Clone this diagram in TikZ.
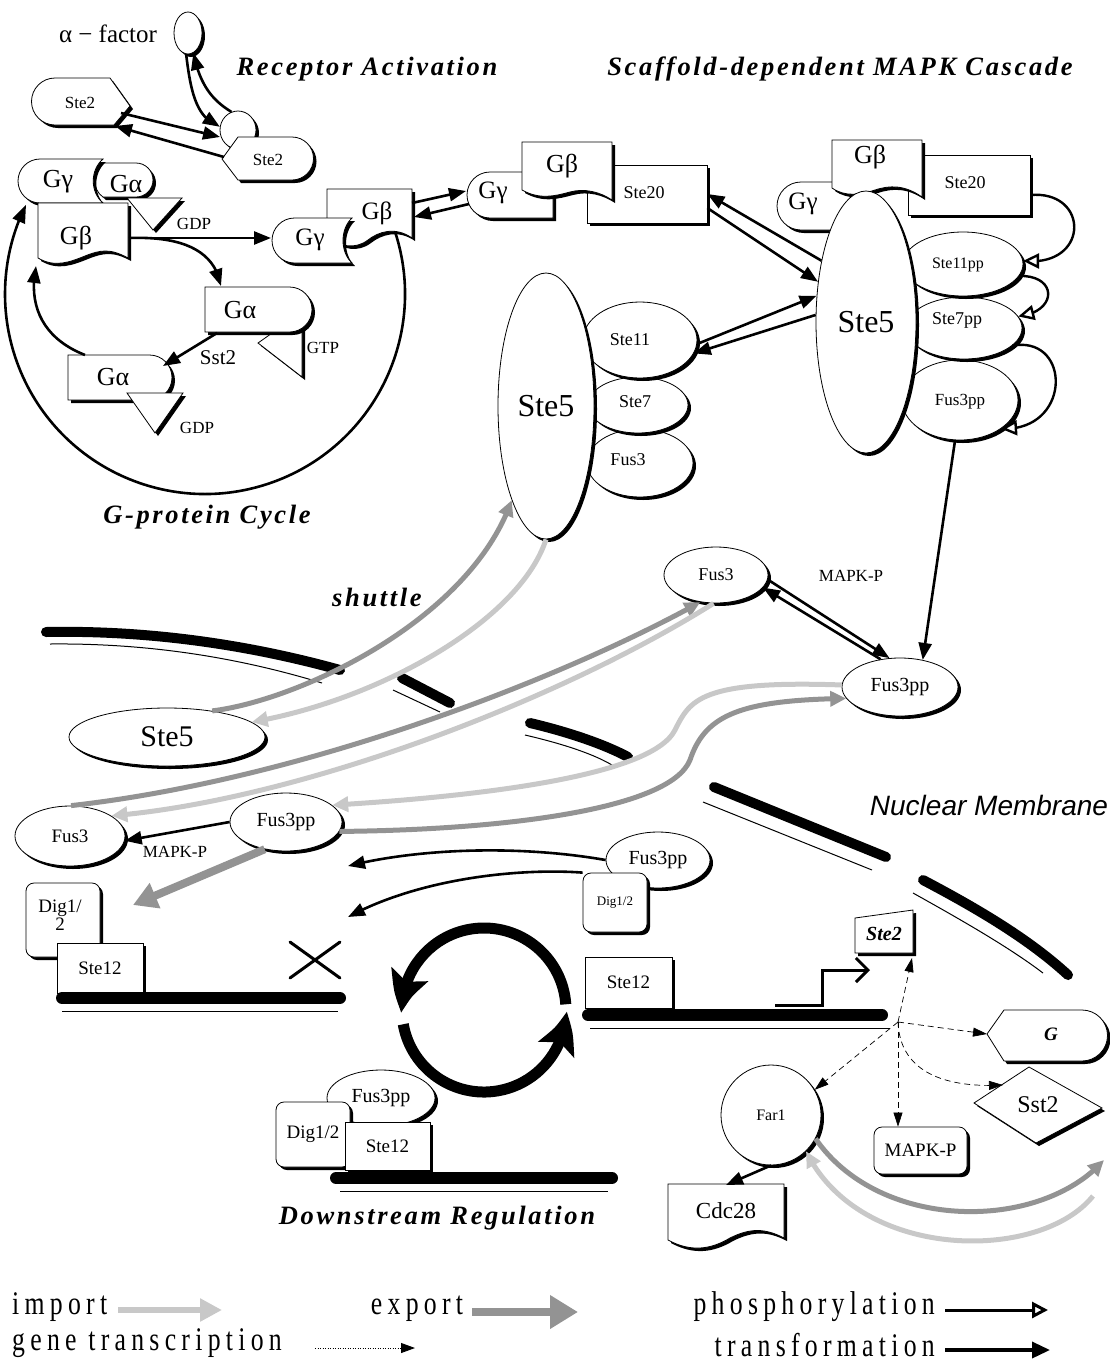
\documentclass[tikz,border=0pt]{standalone}
\usepackage{fontspec}
\setmainfont{Liberation Serif}
\newfontfamily\nmfont{Liberation Sans}
\newfontfamily\ttlfont[LetterSpace=10]{Liberation Serif}
\newfontfamily\lgfont[FakeStretch=0.78,LetterSpace=16]{Liberation Serif}
\usetikzlibrary{shapes.geometric,shadows,arrows.meta,calc,bending}
\newcommand\fsz[1]{\fontsize{#1pt}{#1pt}\selectfont}
\definecolor{impc}{HTML}{C8C8C8}
\definecolor{expc}{HTML}{939393}
\tikzset{
 shd/.style={drop shadow={shadow xshift=3pt,shadow yshift=-3pt,fill=black,opacity=1}},
 box/.style={draw,fill=white,line width=0.8pt,shd},
 ell/.style={ellipse,box,inner sep=0pt},
 rbox/.style={box,inner sep=0pt},
 lbl/.style={inner sep=0pt,font=\fsz{18}},
 ar/.style={line width=2.6pt,-{Triangle[length=17pt,width=13pt]}},
 imp/.style={line width=5pt,draw=impc,-{Triangle[length=16pt,width=15pt]}},
 expo/.style={line width=5pt,draw=expc,-{Triangle[length=16pt,width=15pt]}},
 ph/.style={line width=2.4pt,-{Triangle[open,fill=white,length=16pt,width=15pt]}},
 dsh/.style={line width=0.7pt,dash pattern=on 6pt off 4pt,-{Triangle[length=14pt,width=9pt]}},
 mem/.style={line width=10pt,line cap=round},
 thn/.style={line width=1pt},
 ttl/.style={inner sep=0pt,font=\ttlfont\bfseries\itshape\fsz{26.5}},
 lgd/.style={inner sep=0pt,font=\lgfont\fsz{33}},
 cyc/.style={line width=11pt,-{Stealth[length=40pt,width=38pt,inset=8pt,bend]}},
}
\begin{document}
\begin{tikzpicture}[x=1pt,y=-1pt]
\useasboundingbox (0,0) rectangle (1110,1366);

% ---------- titles ----------
\node[ttl] (tRA) at (367,69) {Receptor Activation};
\node[ttl] (tSD) at (840,69) {Scaffold-dependent MAPK Cascade};
\node[ttl] (tGC) at (207,517) {G-protein Cycle};
\node[ttl] (tSh) at (377,597) {shuttle};
\node[ttl] (tDR) at (437,1218) {Downstream Regulation};
\node[inner sep=0pt,font=\nmfont\itshape\fsz{28}] (tNM) at (989,805) {Nuclear Membrane};

% ---------- receptor activation ----------
\node[lbl,font=\fsz{25}] (alphat) at (108,34) {α − factor};
\node[ell,minimum width=28pt,minimum height=42pt] (alpha) at (188,33) {};
\path[box] (55,78) -- (110,78) -- (130,106) -- (114,125) -- (55,125) arc[start angle=270,end angle=90,radius=23.5pt] -- cycle;
\node[lbl,font=\fsz{17}] (ste2a) at (80,103) {Ste2};
\node[ell,minimum width=36pt,minimum height=38pt] (alphab) at (238,130) {};
\path[box] (222,159) -- (238,137) -- (292,137) arc[start angle=90,end angle=-90,radius=21.5pt] -- (238,180) -- cycle;
\node[lbl,font=\fsz{17}] (ste2b) at (268,160) {Ste2};
\coordinate (s2aE) at (121,113);
\coordinate (s2aE2) at (115,126);
\coordinate (s2bW) at (220,137);
\coordinate (s2bW2) at (224,157);
\draw[ar] (s2aE) -- (s2bW);
\draw[ar] (s2bW2) -- (s2aE2);
\draw[ar] (alpha.265) .. controls (191,95) and (197,118) .. (alphab.170);
\draw[ar] (alphab.110) .. controls (212,100) and (200,85) .. (alpha.-75);

% ---------- G-protein cycle ----------
\coordinate (gcc) at (205,294);
\draw[line width=2.6pt,-{Triangle[length=18pt,width=13pt]}] ($(gcc)+(18.7:200pt)$) arc[start angle=18.7,end angle=-206.5,radius=200pt];

\path[box] (103,163) -- (136,163) arc[start angle=90,end angle=-90,radius=17pt] -- (103,197) .. controls (92,190) and (92,170) .. (103,163) -- cycle;
\path[box] (103,159) -- (40,159) arc[start angle=90,end angle=270,radius=22pt] -- (103,203) .. controls (90,192) and (90,170) .. (103,159) -- cycle;
\path[box] (127,198) -- (182,198) -- (153,230) -- cycle;
\path[box] (38,203) -- (128,203) -- (128,258) .. controls (110,248) and (100,250) .. (85,256) .. controls (70,262) and (55,268) .. (38,258) -- cycle;
\node[lbl,font=\fsz{26}] (ggTL) at (58,182) {Gγ};
\node[lbl,font=\fsz{26}] (gaTL) at (126,184) {Gα};
\node[lbl,font=\fsz{26}] (gbTL) at (76,238) {Gβ};
\node[lbl,font=\fsz{17}] (gdpTL) at (194,224) {GDP};

\path[box] (258,343) -- (302,312) -- (302,377) -- cycle;
\path[box] (205,287) -- (289.5,287) arc[start angle=90,end angle=-90,radius=22.5pt] -- (205,332) -- cycle;
\node[lbl,font=\fsz{26}] (gaGTP) at (240,310) {Gα};
\node[lbl,font=\fsz{17}] (gtp) at (323,348) {GTP};
\path[box] (68,355) -- (149.5,355) arc[start angle=90,end angle=-90,radius=22.5pt] -- (68,400) -- cycle;
\path[box] (127,393) -- (183,393) -- (155,433) -- cycle;
\node[lbl,font=\fsz{26}] (gaGDP) at (113,377) {Gα};
\node[lbl,font=\fsz{17}] (gdp2) at (197,428) {GDP};
\node[lbl,font=\fsz{21}] (sst2l) at (218,358) {Sst2};

\coordinate (gbE) at (129,238);
\coordinate (ggMW) at (271,238);
\coordinate (gaGTPt) at (221,286);
\coordinate (gaGTPb) at (217,333);
\coordinate (gaGDPr) at (163,366);
\coordinate (gaGDPt) at (85,355);
\coordinate (gbBL) at (36,266);
\draw[ar] (gbE) -- (ggMW);
\draw[ar] (gbE) .. controls (185,236) and (215,252) .. (gaGTPt);
\draw[ar] (gaGTPb) -- (gaGDPr);
\draw[ar] (gaGDPt) .. controls (42,338) and (28,305) .. (gbBL);

% middle G complex
\path[box] (327,189) -- (412,189) -- (412,238) .. controls (395,226) and (378,232) .. (368,240) .. controls (355,250) and (340,246) .. (327,238) -- cycle;
\path[box] (352,218) -- (294.5,218) arc[start angle=90,end angle=270,radius=22.5pt] -- (352,263) .. controls (340,252) and (340,229) .. (352,218) -- cycle;
\node[lbl,font=\fsz{25}] (ggM) at (310,240) {Gγ};
\node[lbl,font=\fsz{25}] (gbM) at (377,213) {Gβ};

% top-middle complex
\node[rbox,minimum width=120pt,minimum height=58pt] (ste20M) at (647,194) {};
\path[box] (553,172) -- (490,172) arc[start angle=90,end angle=270,radius=23pt] -- (553,218) -- cycle;
\path[box] (522,142) -- (612,142) -- (612,200) .. controls (600,192) and (585,188) .. (570,192) .. controls (555,196) and (540,200) .. (522,190) -- cycle;
\node[lbl,font=\fsz{18}] (ste20Mt) at (644,193) {Ste20};
\node[lbl,font=\fsz{25}] (ggTM) at (493,193) {Gγ};
\node[lbl,font=\fsz{26}] (gbTM) at (562,166) {Gβ};

\coordinate (gbME1) at (412,203);
\coordinate (ggTMW1) at (466,191);
\coordinate (ggTMW2) at (469,204);
\coordinate (gbME2) at (414,217);
\draw[ar] (gbME1) -- (ggTMW1);
\draw[ar] (ggTMW2) -- (gbME2);

% right complex
\node[rbox,minimum width=122pt,minimum height=60pt] (ste20R) at (969,185) {};
\path[box] (850,182) -- (801,182) arc[start angle=90,end angle=270,radius=24pt] -- (850,230) -- cycle;
\path[box] (832,140) -- (922,140) -- (922,197) .. controls (905,185) and (890,185) .. (875,190) .. controls (860,195) and (845,197) .. (832,188) -- cycle;
\node[ell,minimum width=116pt,minimum height=80pt] (fus3ppL) at (960,400) {};
\node[ell,minimum width=116pt,minimum height=62pt] (ste7pp) at (964,328) {};
\node[ell,minimum width=120pt,minimum height=64pt] (ste11pp) at (963,264) {};
\node[ell,minimum width=100pt,minimum height=262pt,font=\fsz{32}] (ste5R) at (866,322) {Ste5};
\node[lbl,font=\fsz{18}] (ste20Rt) at (965,183) {Ste20};
\node[lbl,font=\fsz{25}] (ggR) at (803,204) {Gγ};
\node[lbl,font=\fsz{26}] (gbR) at (870,157) {Gβ};
\node[lbl,font=\fsz{16}] (ste11ppt) at (958,265) {Ste11pp};
\node[lbl,font=\fsz{18}] (ste7ppt) at (957,320) {Ste7pp};
\node[lbl,font=\fsz{17}] (fus3ppLt) at (960,402) {Fus3pp};

\draw[ph] ([yshift=-10pt]ste20R.east) .. controls (1090,190) and (1090,268) .. (ste11pp.3);
\draw[ph] (ste11pp.-12) .. controls (1058,275) and (1058,312) .. (ste7pp.12);
\draw[ph] (ste7pp.-20) .. controls (1072,335) and (1072,432) .. (fus3ppL.-35);

% left Ste5 complex
\node[ell,minimum width=106pt,minimum height=68pt] (fus3L) at (640,463) {};
\node[ell,minimum width=100pt,minimum height=56pt] (ste7L) at (638,405) {};
\node[ell,minimum width=114pt,minimum height=76pt] (ste11L) at (640,340) {};
\node[ell,minimum width=96pt,minimum height=266pt,font=\fsz{32}] (ste5L) at (546,406) {Ste5};
\node[lbl,font=\fsz{18}] (ste11Lt) at (630,340) {Ste11};
\node[lbl,font=\fsz{18}] (ste7Lt) at (635,402) {Ste7};
\node[lbl,font=\fsz{18}] (fus3Lt) at (628,460) {Fus3};

\draw[ar] (ste5R.126) -- (ste20M.east);
\draw[ar] ([yshift=-14pt]ste20M.east) -- (ste5R.140);
\draw[ar] (ste11L.-4) -- (ste5R.152);
\draw[ar] (ste5R.172) -- (ste11L.-14);

% ---------- nuclear membrane ----------
\draw[mem] (46,632) .. controls (150,630) and (250,645) .. (340,670);
\draw[thn] (50,644) .. controls (150,643) and (240,658) .. (322,683);
\draw[mem] (402,678) -- (450,703);
\draw[thn] (393,690) -- (440,712);
\draw[mem] (530,723) .. controls (560,730) and (600,742) .. (628,757);
\draw[thn] (525,735) .. controls (555,742) and (590,752) .. (612,765);
\draw[mem] (714,787) -- (886,857);
\draw[thn] (703,802) -- (872,870);
\draw[mem] (923,880) .. controls (980,910) and (1030,940) .. (1068,975);
\draw[thn] (913,893) .. controls (965,922) and (1010,948) .. (1043,973);

% ---------- shuttle region ----------
\node[ell,minimum width=104pt,minimum height=56pt,font=\fsz{18}] (fus3T) at (716,575) {Fus3};
\node[ell,minimum width=116pt,minimum height=58pt,font=\fsz{20}] (fus3ppR) at (900,687) {Fus3pp};
\node[ell,minimum width=196pt,minimum height=58pt,font=\fsz{30}] (ste5C) at (167,737) {Ste5};
\node[ell,minimum width=110pt,minimum height=60pt,font=\fsz{19}] (fus3C) at (70,836) {Fus3};
\node[ell,minimum width=112pt,minimum height=58pt,font=\fsz{20}] (fus3ppC) at (286,822) {Fus3pp};
\node[lbl,font=\fsz{17}] (mapkT) at (851,576) {MAPK-P};
\node[lbl,font=\fsz{17}] (mapkC) at (175,852) {MAPK-P};

\draw[ar] (fus3ppL.-97) -- (fus3ppR.50);
\draw[ar] (fus3T.-5) -- (fus3ppR.110);
\draw[ar] (fus3ppR.125) -- (fus3T.-15);
\draw[ar] (fus3ppC.west) -- (fus3C.-5);

\draw[expo] (ste5C.30) .. controls (300,700) and (470,620) .. (ste5L.-110);
\draw[imp] (ste5L.-90) .. controls (520,620) and (380,700) .. (ste5C.10);
\draw[expo] (fus3C.88) .. controls (300,780) and (560,680) .. (fus3T.-120);
\draw[imp] (fus3T.-95) .. controls (560,700) and (300,800) .. (fus3C.26);
\draw[imp] (fus3ppR.178) .. controls (700,680) and (690,700) .. (675,730) .. controls (650,780) and (450,798) .. (fus3ppC.20);
\draw[expo] (fus3ppC.-10) .. controls (500,830) and (670,810) .. (690,760) .. controls (705,715) and (740,700) .. (fus3ppR.192);

\coordinate (digtip) at (133,905);
\draw[line width=8pt,draw=expc,-{Triangle[length=24pt,width=26pt]}] (fus3ppC.-128) -- (digtip);

% ---------- nucleus: transcription ----------
\node[ell,minimum width=104pt,minimum height=56pt,font=\fsz{20}] (fus3ppN) at (658,860) {Fus3pp};
\node[rbox,rounded corners=8pt,minimum width=64pt,minimum height=59pt,font=\fsz{13}] (digN) at (615,902.5) {Dig1/2};
\coordinate (tipA) at (348,866);
\coordinate (tipB) at (348,917);
\draw[ar] (fus3ppN.west) .. controls (520,845) and (420,848) .. (tipA);
\draw[ar] (digN.north west) .. controls (520,868) and (420,878) .. (tipB);

\node[rbox,rounded corners=8pt,minimum width=74pt,minimum height=74pt] (digL) at (63,920) {};
\node[lbl,font=\fsz{19},align=center] (digLt) at (60,915) {Dig1/\\[-1pt]2};
\node[rbox,minimum width=86pt,minimum height=50pt,font=\fsz{19}] (ste12L) at (100,968) {Ste12};
\draw[mem,line width=12pt] (62,998) -- (340,998);
\draw[thn] (62,1011) -- (338,1011);
\draw[line width=3pt,line cap=round] (290,942) -- (340,978) (290,978) -- (340,942);

\node[rbox,minimum width=87pt,minimum height=51pt,font=\fsz{19}] (ste12R) at (628.5,982.5) {Ste12};
\draw[mem,line width=12pt] (588,1015) -- (882,1015);
\draw[thn] (590,1028) -- (890,1028);
\draw[line width=3pt,-{Straight Barb[length=12pt,width=24pt]}] (775,1005) -- (822,1005) -- (822,970) -- (870,970);
\path[box] (855,918) -- (913,910) -- (913,953) -- (855,953) -- cycle;
\node[lbl,font=\bfseries\itshape\fsz{20}] (ste2g) at (884,934) {Ste2};

% cycle arrows
\coordinate (cycc) at (484,1010);
\draw[cyc] ($(cycc)+(4:82pt)$) arc[start angle=4,end angle=182,radius=82pt];
\draw[cyc] ($(cycc)+(190:82pt)$) arc[start angle=190,end angle=359,radius=82pt];

% downstream complex
\node[ell,minimum width=108pt,minimum height=56pt,font=\fsz{20}] (fus3ppD) at (381,1098) {Fus3pp};
\node[rbox,rounded corners=8pt,minimum width=74pt,minimum height=65pt,font=\fsz{19}] (digD) at (313,1134.5) {Dig1/2};
\node[rbox,minimum width=85pt,minimum height=48pt,font=\fsz{19}] (ste12D) at (387.5,1146) {Ste12};
\draw[mem,line width=12pt] (336,1178) -- (612,1178);
\draw[thn] (340,1191) -- (608,1191);

% targets
\coordinate (hub) at (898,1022);
\coordinate (ste2gB) at (912,958);
\path[box] (987,1034) -- (1004,1010) -- (1082,1010) arc[start angle=90,end angle=-90,radius=25.5pt] -- (1004,1061) -- cycle;
\node[lbl,font=\bfseries\itshape\fsz{19}] (gtag) at (1051,1034) {G};
\coordinate (gtagW) at (987,1034);
\path[box] (974,1103) -- (1029,1067) -- (1102,1108) -- (1036,1143) -- cycle;
\node[lbl,font=\fsz{24}] (sst2) at (1038,1105) {Sst2};
\coordinate (sst2NW) at (1003,1085);
\node[rbox,rounded corners=8pt,minimum width=93pt,minimum height=47pt,font=\fsz{19}] (mapkp) at (920.5,1150.5) {MAPK-P};
\node[circle,box,minimum size=100pt,inner sep=0pt,font=\fsz{16}] (far1) at (771,1115) {Far1};
\path[box] (668,1184) -- (784,1184) -- (784,1238) .. controls (765,1228) and (750,1228) .. (730,1238) .. controls (710,1250) and (690,1252) .. (668,1240) -- cycle;
\node[lbl,font=\fsz{23}] (cdc28) at (726,1211) {Cdc28};
\coordinate (cdcTop) at (726,1185);

\draw[dsh] (hub) .. controls (905,990) .. (ste2gB);
\draw[dsh] (hub) -- (gtagW);
\draw[dsh] (hub) .. controls (900,1075) and (950,1088) .. (sst2NW);
\draw[dsh] (hub) -- (hub |- mapkp.north);
\draw[dsh] (hub) -- (far1.30);
\draw[ar] (far1.south) -- (cdcTop);

\coordinate (farR1) at (1104,1160);
\coordinate (farR2) at (1093,1196);
\draw[expo] (far1.-28) .. controls (880,1232) and (1040,1232) .. (farR1);
\draw[imp] (farR2) .. controls (1040,1262) and (860,1262) .. (far1.-46);

% ---------- legend ----------
\node[lgd,anchor=west] (lgI) at (12,1307) {import};
\coordinate (lgIa) at (118,1310);
\coordinate (lgIb) at (222,1310);
\draw[line width=6pt,draw=impc,-{Triangle[length=22pt,width=22pt]}] (lgIa) -- (lgIb);
\node[lgd] (lgE) at (417,1309) {export};
\coordinate (lgEa) at (472,1312);
\coordinate (lgEb) at (578,1312);
\draw[line width=8pt,draw=expc,-{Triangle[length=28pt,width=32pt]}] (lgEa) -- (lgEb);
\node[lgd,anchor=east] (lgP) at (935,1307) {phosphorylation};
\coordinate (lgPa) at (945,1310);
\coordinate (lgPb) at (1048,1310);
\draw[line width=3pt,-{Triangle[open,fill=white,length=16pt,width=16pt]}] (lgPa) -- (lgPb);
\node[lgd,anchor=west] (lgG) at (12,1343) {gene transcription};
\coordinate (lgGa) at (315,1348);
\coordinate (lgGb) at (415,1348);
\draw[line width=0.9pt,dash pattern=on 1pt off 1.5pt,-{Triangle[length=14pt,width=10pt]}] (lgGa) -- (lgGb);
\node[lgd,anchor=east] (lgT) at (935,1345) {transformation};
\coordinate (lgTa) at (945,1350);
\coordinate (lgTb) at (1050,1350);
\draw[line width=3.5pt,-{Triangle[length=18pt,width=16pt]}] (lgTa) -- (lgTb);
\end{tikzpicture}
\end{document}
